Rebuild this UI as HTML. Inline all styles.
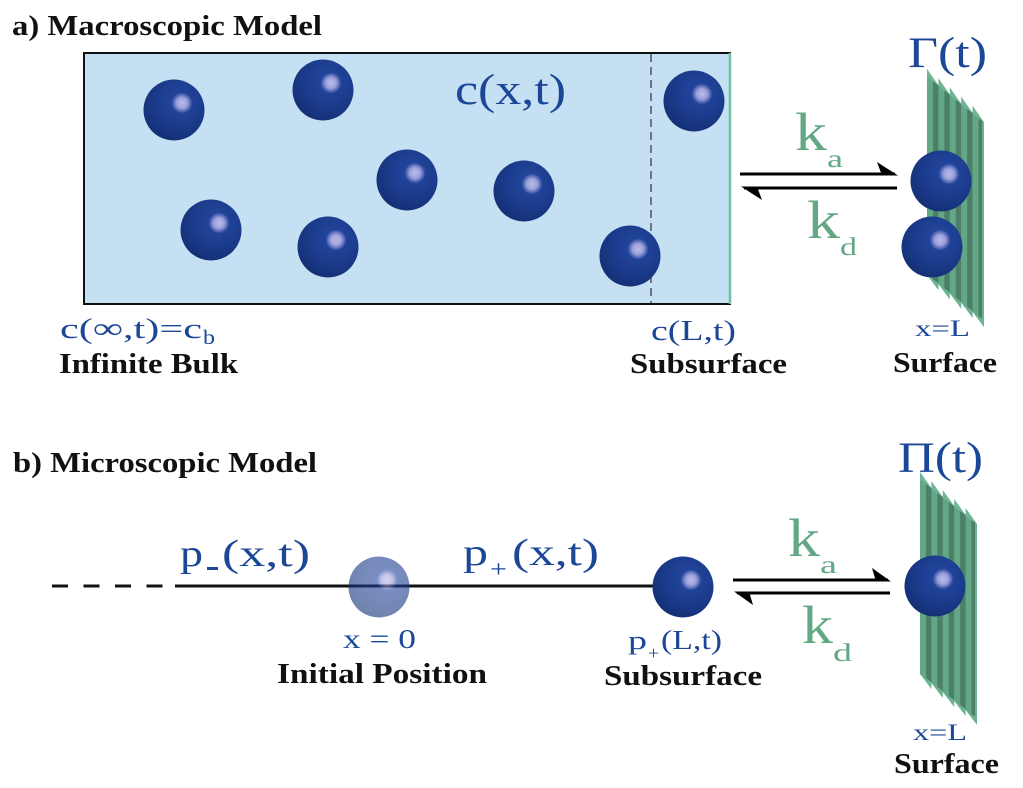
<!DOCTYPE html>
<html><head><meta charset="utf-8"><style>
html,body{margin:0;padding:0;background:#fff;}
svg{display:block;}
.m{font-family:"Liberation Serif",serif;fill:#1c4796;}
.g{font-family:"Liberation Serif",serif;fill:#62a885;}
.b{font-family:"Liberation Serif",serif;font-weight:bold;fill:#111;}
</style></head><body>
<svg width="1023" height="788" viewBox="0 0 1023 788" xmlns="http://www.w3.org/2000/svg">
<defs>
<radialGradient id="sph" cx="0.6" cy="0.36" r="0.8">
<stop offset="0" stop-color="#2447a0"/>
<stop offset="0.45" stop-color="#1c3d8f"/>
<stop offset="0.8" stop-color="#153178"/>
<stop offset="1" stop-color="#0d2160"/>
</radialGradient>
<radialGradient id="hl" cx="0.5" cy="0.5" r="0.5">
<stop offset="0" stop-color="#bcbcea" stop-opacity="1"/>
<stop offset="0.5" stop-color="#a0a5dc" stop-opacity="0.95"/>
<stop offset="0.8" stop-color="#6f7bc4" stop-opacity="0.6"/>
<stop offset="1" stop-color="#2447a0" stop-opacity="0"/>
</radialGradient>
<g id="ball">
<circle cx="0" cy="0" r="30.5" fill="url(#sph)"/>
<circle cx="8" cy="-7" r="11" fill="url(#hl)"/>
</g>
<g id="sheet">
<rect x="0" y="0" width="57" height="195" fill="#5a9a7c"/>
<rect x="0" y="0" width="6" height="195" fill="#63a786"/>
<rect x="6" y="0" width="5.4" height="195" fill="#4c7f67"/>
<rect x="11.4" y="0" width="6" height="195" fill="#63a786"/>
<rect x="17.4" y="0" width="5.4" height="195" fill="#4c7f67"/>
<rect x="22.8" y="0" width="6" height="195" fill="#63a786"/>
<rect x="28.8" y="0" width="5.4" height="195" fill="#4c7f67"/>
<rect x="34.2" y="0" width="6" height="195" fill="#63a786"/>
<rect x="40.2" y="0" width="5.4" height="195" fill="#4c7f67"/>
<rect x="45.6" y="0" width="6" height="195" fill="#63a786"/>
<rect x="51.6" y="0" width="3.4" height="195" fill="#4c7f67"/>
<rect x="55" y="0" width="2" height="195" fill="#6cb090"/>
<polygon points="0,-7 11.4,0 0,1" fill="#70b694"/>
<polygon points="11.4,-7 22.8,0 11.4,1" fill="#70b694"/>
<polygon points="22.8,-7 34.2,0 22.8,1" fill="#70b694"/>
<polygon points="34.2,-7 45.6,0 34.2,1" fill="#70b694"/>
<polygon points="45.6,-7 57,0 45.6,1" fill="#70b694"/>
<polygon points="0,195 11.4,201 11.4,194" fill="#6cb392"/>
<polygon points="11.4,195 22.8,201 22.8,194" fill="#6cb392"/>
<polygon points="22.8,195 34.2,201 34.2,194" fill="#6cb392"/>
<polygon points="34.2,195 45.6,201 45.6,194" fill="#6cb392"/>
<polygon points="45.6,195 57,201 57,194" fill="#6cb392"/>
</g>
</defs>

<!-- Panel a -->
<text class="b" x="12" y="35" font-size="29" textLength="310" lengthAdjust="spacingAndGlyphs">a) Macroscopic Model</text>

<rect x="84" y="53" width="646" height="251" fill="#c5dff3" stroke="#111" stroke-width="2"/>
<line x1="730" y1="53" x2="730" y2="304" stroke="#6cc2a0" stroke-width="2.5"/>
<line x1="651" y1="54" x2="651" y2="303" stroke="#555" stroke-width="1.5" stroke-dasharray="8,5"/>

<use href="#ball" x="174" y="110"/>
<use href="#ball" x="323" y="90"/>
<use href="#ball" x="211" y="230"/>
<use href="#ball" x="328" y="247"/>
<use href="#ball" x="407" y="180"/>
<use href="#ball" x="524" y="191"/>
<use href="#ball" x="694" y="101"/>
<use href="#ball" x="630" y="256"/>

<text class="m" x="455" y="104" font-size="43" textLength="111" lengthAdjust="spacingAndGlyphs">c(x,t)</text>

<text class="m" x="60" y="338" font-size="29" textLength="142" lengthAdjust="spacingAndGlyphs">c(∞,t)=c</text>
<text class="m" x="203" y="344" font-size="20" textLength="12" lengthAdjust="spacingAndGlyphs">b</text>
<text class="b" x="59" y="373" font-size="29" textLength="179" lengthAdjust="spacingAndGlyphs">Infinite Bulk</text>

<text class="m" x="651" y="340" font-size="29" textLength="85" lengthAdjust="spacingAndGlyphs">c(L,t)</text>
<text class="b" x="630" y="373" font-size="29" textLength="157" lengthAdjust="spacingAndGlyphs">Subsurface</text>

<!-- arrows a -->
<line x1="740" y1="174" x2="895" y2="174" stroke="#000" stroke-width="3"/>
<polygon points="898,175.5 877,162 882,175.5" fill="#000"/>
<line x1="744" y1="188" x2="897" y2="188" stroke="#000" stroke-width="3"/>
<polygon points="741,186.5 762,200 757,186.5" fill="#000"/>

<text class="g" x="795" y="150" font-size="54" textLength="32" lengthAdjust="spacingAndGlyphs">k</text>
<text class="g" x="827" y="167" font-size="25" textLength="16" lengthAdjust="spacingAndGlyphs">a</text>
<text class="g" x="807" y="238" font-size="54" textLength="33" lengthAdjust="spacingAndGlyphs">k</text>
<text class="g" x="840" y="255" font-size="25" textLength="17" lengthAdjust="spacingAndGlyphs">d</text>

<text class="m" x="908" y="67" font-size="43" textLength="79" lengthAdjust="spacingAndGlyphs">Γ(t)</text>
<g transform="translate(927,76) skewY(39) scale(1,1.02)"><use href="#sheet"/></g>
<use href="#ball" x="941" y="181"/>
<use href="#ball" x="932" y="247"/>
<text class="m" x="915" y="336" font-size="23" textLength="55" lengthAdjust="spacingAndGlyphs">x=L</text>
<text class="b" x="893" y="372" font-size="29" textLength="104" lengthAdjust="spacingAndGlyphs">Surface</text>

<!-- Panel b -->
<text class="b" x="13" y="472" font-size="29" textLength="304" lengthAdjust="spacingAndGlyphs">b) Microscopic Model</text>

<line x1="52" y1="586" x2="170" y2="586" stroke="#111" stroke-width="3" stroke-dasharray="16,15.5"/>
<line x1="175" y1="586" x2="683" y2="586" stroke="#111" stroke-width="3"/>

<text class="m" x="180" y="566" font-size="38" textLength="23" lengthAdjust="spacingAndGlyphs">p</text>
<rect x="207" y="567" width="11" height="3" fill="#1c4796"/>
<text class="m" x="222" y="566" font-size="38" textLength="88" lengthAdjust="spacingAndGlyphs">(x,t)</text>

<g opacity="0.6"><use href="#ball" x="379" y="587"/></g>
<text class="m" x="343" y="648" font-size="27" textLength="73" lengthAdjust="spacingAndGlyphs">x = 0</text>
<text class="b" x="277" y="683" font-size="29" textLength="210" lengthAdjust="spacingAndGlyphs">Initial Position</text>

<text class="m" x="463" y="565" font-size="38" textLength="25" lengthAdjust="spacingAndGlyphs">p</text>
<text class="m" x="490" y="577" font-size="24" textLength="17" lengthAdjust="spacingAndGlyphs">+</text>
<text class="m" x="512" y="565" font-size="38" textLength="87" lengthAdjust="spacingAndGlyphs">(x,t)</text>

<use href="#ball" x="683" y="587"/>
<text class="m" x="628" y="649" font-size="26" textLength="19" lengthAdjust="spacingAndGlyphs">p</text>
<text class="m" x="648" y="659" font-size="18" textLength="11" lengthAdjust="spacingAndGlyphs">+</text>
<text class="m" x="661" y="649" font-size="27" textLength="61" lengthAdjust="spacingAndGlyphs">(L,t)</text>
<text class="b" x="604" y="685" font-size="29" textLength="158" lengthAdjust="spacingAndGlyphs">Subsurface</text>

<!-- arrows b -->
<line x1="733" y1="580" x2="888" y2="580" stroke="#000" stroke-width="3"/>
<polygon points="891,581.5 872,568 876,581.5" fill="#000"/>
<line x1="737" y1="593" x2="890" y2="593" stroke="#000" stroke-width="3"/>
<polygon points="734,591.5 753,605 749,591.5" fill="#000"/>

<text class="g" x="788" y="556" font-size="54" textLength="32" lengthAdjust="spacingAndGlyphs">k</text>
<text class="g" x="820" y="573" font-size="25" textLength="17" lengthAdjust="spacingAndGlyphs">a</text>
<text class="g" x="802" y="643" font-size="54" textLength="31" lengthAdjust="spacingAndGlyphs">k</text>
<text class="g" x="833" y="661" font-size="25" textLength="19" lengthAdjust="spacingAndGlyphs">d</text>

<text class="m" x="898" y="472" font-size="43" textLength="85" lengthAdjust="spacingAndGlyphs">Π(t)</text>
<g transform="translate(920,479) skewY(38.3)"><use href="#sheet"/></g>
<use href="#ball" x="935" y="586"/>
<text class="m" x="913" y="740" font-size="23" textLength="54" lengthAdjust="spacingAndGlyphs">x=L</text>
<text class="b" x="894" y="773" font-size="29" textLength="105" lengthAdjust="spacingAndGlyphs">Surface</text>
</svg>
</body></html>
